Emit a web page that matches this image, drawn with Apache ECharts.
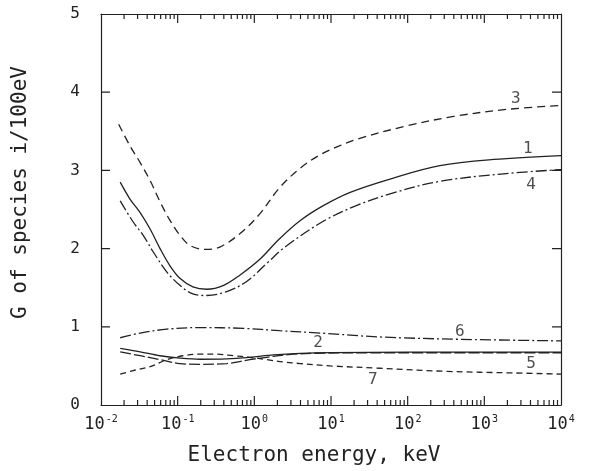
<!DOCTYPE html>
<html>
<head>
<meta charset="utf-8">
<script src="https://cdn.jsdelivr.net/npm/echarts@6/dist/echarts.min.js"></script>
<style>html,body{margin:0;padding:0;background:#fff}#c{width:598px;height:471px;background:#fff}</style>
</head>
<body>
<div id="c"></div>
<script>
// ---- data (energies in keV, G values per 100 eV) ----
const c1x = [0.0178,0.024,0.0324,0.0437,0.0589,0.0794,0.107,0.158,0.24,0.398,0.646,1.17,2.10,3.98,7.94,17.8,58.9,263,1318,10000];
const c1y = [2.85,2.63,2.46,2.25,2.00,1.78,1.62,1.51,1.48,1.53,1.66,1.86,2.12,2.36,2.55,2.72,2.89,3.06,3.14,3.19];

const c3x = [0.017,0.024,0.0324,0.0437,0.0589,0.0794,0.107,0.145,0.229,0.355,0.646,1.17,2.14,3.98,7.24,12.6,21.9,97.7,398,1950,10000];
const c3y = [3.59,3.31,3.10,2.87,2.60,2.36,2.17,2.04,1.99,2.02,2.19,2.44,2.78,3.03,3.20,3.31,3.40,3.57,3.69,3.78,3.83];

const c4x = [0.0178,0.0263,0.0355,0.0479,0.0724,0.107,0.158,0.24,0.437,0.794,1.45,2.51,7.94,21.4,58.9,263,1950,10000];
const c4y = [2.61,2.34,2.17,1.96,1.70,1.53,1.42,1.40,1.45,1.58,1.81,2.02,2.35,2.55,2.70,2.86,2.96,3.01];

const c6x = [0.0178,0.0324,0.0724,0.195,0.724,2.14,7.24,43.7,479,10000];
const c6y = [0.86,0.92,0.97,0.99,0.98,0.95,0.92,0.87,0.84,0.82];

const c2x = [0.0178,0.0324,0.0589,0.107,0.195,0.437,0.871,1.78,3.98,9.77,100,10000];
const c2y = [0.725,0.68,0.63,0.60,0.585,0.59,0.61,0.64,0.66,0.67,0.675,0.675];

const c5x = [0.0178,0.0324,0.0589,0.107,0.195,0.437,0.871,1.45,2.82,6.31,31.6,10000];
const c5y = [0.68,0.63,0.58,0.53,0.52,0.53,0.58,0.61,0.645,0.662,0.668,0.668];

const c7x = [0.0178,0.0263,0.0437,0.0724,0.117,0.195,0.324,0.537,0.871,1.45,2.40,3.98,9.77,43.7,324,2399,10000];
const c7y = [0.395,0.44,0.49,0.58,0.63,0.65,0.65,0.63,0.61,0.58,0.55,0.53,0.50,0.47,0.43,0.41,0.395];

const curveLabelText = ['1','2','3','4','5','6','7'];
const curveLabelX = [3700, 6.8, 2570, 4070, 4070, 480, 35];
const curveLabelY = [3.27, 0.79, 3.91, 2.82, 0.53, 0.94, 0.32];

const xMajorTicks = [0.01,0.1,1,10,100,1000,10000];
const xExponents = ['-2','-1','0','1','2','3','4'];
const yTicks = [0,1,2,3,4,5];

// ---- build options ----
const X_MIN = xMajorTicks[0], X_MAX = xMajorTicks[xMajorTicks.length - 1];
const Y_MIN = yTicks[0], Y_MAX = yTicks[yTicks.length - 1];
const GRID = { left: 101, right: 37, top: 14, bottom: 64 };
const PLOT_W = 598 - GRID.left - GRID.right, PLOT_H = 471 - GRID.top - GRID.bottom;
const DECADES = Math.log10(X_MAX / X_MIN);
const minorTicks = [];
for (let d = 0; d < xMajorTicks.length - 1; d++) {
  for (let k = 2; k <= 9; k++) minorTicks.push(+(xMajorTicks[d] * k).toPrecision(6));
}
const ink = '#222';
const FONT = 'DejaVu Sans Mono';
function zip(xs, ys) { return xs.map((x, i) => [x, ys[i]]); }
function line(name, xs, ys, dash) {
  return {
    name, type: 'line', data: zip(xs, ys), smooth: 0.35, symbol: 'none',
    lineStyle: { color: ink, width: 1.3, type: dash }, z: 3
  };
}
// inward frame ticks, each a tiny two-point line placed through the axes' scales
function tickSeries(p1, p2) {
  return { type: 'line', data: [p1, p2], symbol: 'none', silent: true, z: 4,
    lineStyle: { color: ink, width: 1.2, type: 'solid' } };
}
const tickSeriesList = [];
function addXTick(v, lenPx) {
  const dy = lenPx / PLOT_H * (Y_MAX - Y_MIN);
  tickSeriesList.push(tickSeries([v, Y_MIN], [v, Y_MIN + dy]));
  tickSeriesList.push(tickSeries([v, Y_MAX], [v, Y_MAX - dy]));
}
minorTicks.forEach(v => addXTick(v, 5));
xMajorTicks.slice(1, -1).forEach(v => addXTick(v, 9));
yTicks.slice(1, -1).forEach(v => {
  const f = Math.pow(10, 9 / PLOT_W * DECADES);
  tickSeriesList.push(tickSeries([X_MIN, v], [X_MIN * f, v]));
  tickSeriesList.push(tickSeries([X_MAX, v], [X_MAX / f, v]));
});

const option = {
  animation: false,
  grid: GRID,
  xAxis: [
    {
      type: 'log', min: X_MIN, max: X_MAX, position: 'bottom',
      axisLine: { show: true, onZero: false, lineStyle: { color: ink, width: 1.2 } },
      axisTick: { show: false }, splitLine: { show: false },
      axisLabel: {
        show: true, margin: 9,
        formatter: function (v) {
          const e = Math.round(Math.log10(v));
          const i = xMajorTicks.findIndex(t => Math.round(Math.log10(t)) === e);
          return '{b|10}{s|' + (i >= 0 ? xExponents[i] : String(e)) + '}';
        },
        rich: {
          b: { fontFamily: FONT, fontSize: 17, color: ink },
          s: { fontFamily: FONT, fontSize: 10, color: ink, padding: [0, 0, 12, 1] }
        }
      },
      name: 'Electron energy, keV', nameLocation: 'middle', nameGap: 40,
      nameTextStyle: { fontFamily: FONT, fontSize: 21, color: ink, padding: [0, 34, 0, 0] }
    },
    {
      type: 'log', min: X_MIN, max: X_MAX, position: 'top',
      axisLine: { show: true, onZero: false, lineStyle: { color: ink, width: 1.2 } },
      axisTick: { show: false }, splitLine: { show: false }, axisLabel: { show: false }
    }
  ],
  yAxis: [
    {
      type: 'value', min: Y_MIN, max: Y_MAX, interval: 1, position: 'left',
      axisLine: { show: true, onZero: false, lineStyle: { color: ink, width: 1.2 } },
      axisTick: { show: false }, splitLine: { show: false },
      axisLabel: { margin: 21, fontFamily: FONT, fontSize: 16, color: ink },
      name: 'G of species i/100eV', nameLocation: 'middle', nameGap: 70,
      nameTextStyle: { fontFamily: FONT, fontSize: 21, color: ink, padding: [0, 0, 0, 34] }
    },
    {
      type: 'value', min: Y_MIN, max: Y_MAX, interval: 1, position: 'right',
      axisLine: { show: true, onZero: false, lineStyle: { color: ink, width: 1.2 } },
      axisTick: { show: false }, splitLine: { show: false }, axisLabel: { show: false }
    }
  ],
  series: [
    line('1', c1x, c1y, 'solid'),
    line('2', c2x, c2y, 'solid'),
    line('3', c3x, c3y, [8, 5]),
    line('4', c4x, c4y, [11, 3, 2, 3]),
    line('5', c5x, c5y, [11, 3]),
    line('6', c6x, c6y, [11, 3, 2, 3]),
    line('7', c7x, c7y, [6, 4]),
    {
      type: 'scatter', symbolSize: 0, z: 5,
      data: curveLabelText.map((t, i) => ({ value: [curveLabelX[i], curveLabelY[i]], name: t })),
      label: { show: true, position: 'inside', formatter: p => p.name,
        fontFamily: FONT, fontSize: 16, color: ink }
    }
  ].concat(tickSeriesList)
};
echarts.init(document.getElementById('c')).setOption(option);
</script>
</body>
</html>
